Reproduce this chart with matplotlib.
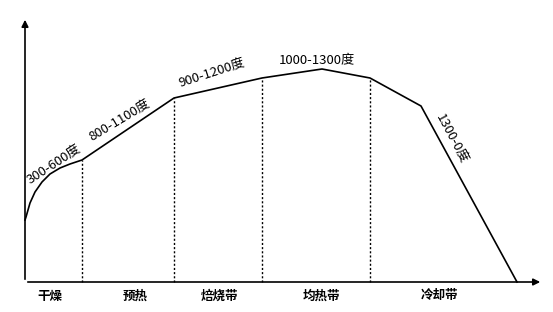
import matplotlib.pyplot as plt

plt.rcParams['font.family'] = ['Noto Sans CJK SC', 'DejaVu Sans']

# furnace position (arbitrary units) and temperature curve
curve_x = [0, 1, 5, 10, 17, 25, 35, 45, 57, 149, 237, 297, 345, 396, 492]
curve_y = [62, 65, 79, 90, 100, 108, 114, 118, 122, 184, 204, 213, 204, 176, 0]

# zone boundaries (dotted lines) and their curve heights
bound_x = [57, 149, 237, 345]
bound_y = [122, 184, 204, 204]

zone_names = ['干燥', '预热', '焙烧带', '均热带', '冷却带']
zone_pos = [25, 110, 194, 296, 414]

temp_labels = ['300-600度', '800-1100度', '900-1200度', '1000-1300度', '1300-0度']
temp_pos = [(29, 117), (95, 161), (187, 209), (292, 221), (426, 143)]
temp_rot = [33, 31, 18, 0, -62]

fig = plt.figure(figsize=(5.53, 3.12), dpi=100)
ax = fig.add_axes([0, 0, 1, 1])
ax.set_xlim(-25, 528)
ax.set_ylim(-30, 282)
ax.axis('off')

ax.plot(curve_x, curve_y, color='black', lw=1.2)
ax.vlines(bound_x, 0, bound_y, colors='black', linestyles=(0, (1.5, 1.5)), lw=1)

# axes with arrows
ax.annotate('', xy=(0, 265), xytext=(0, 0),
            arrowprops=dict(arrowstyle='-|>', color='black', lw=1.2, mutation_scale=10))
ax.annotate('', xy=(518, 0), xytext=(0, 0),
            arrowprops=dict(arrowstyle='-|>', color='black', lw=1.2, mutation_scale=10))

for name, x in zip(zone_names, zone_pos):
    ax.text(x, -14, name, ha='center', va='center', fontsize=9, fontweight='bold')

for lab, (x, y), r in zip(temp_labels, temp_pos, temp_rot):
    ax.text(x, y, lab, ha='center', va='center', fontsize=9.5, rotation=r,
            rotation_mode='anchor')

fig.savefig('out.png', dpi=100)
